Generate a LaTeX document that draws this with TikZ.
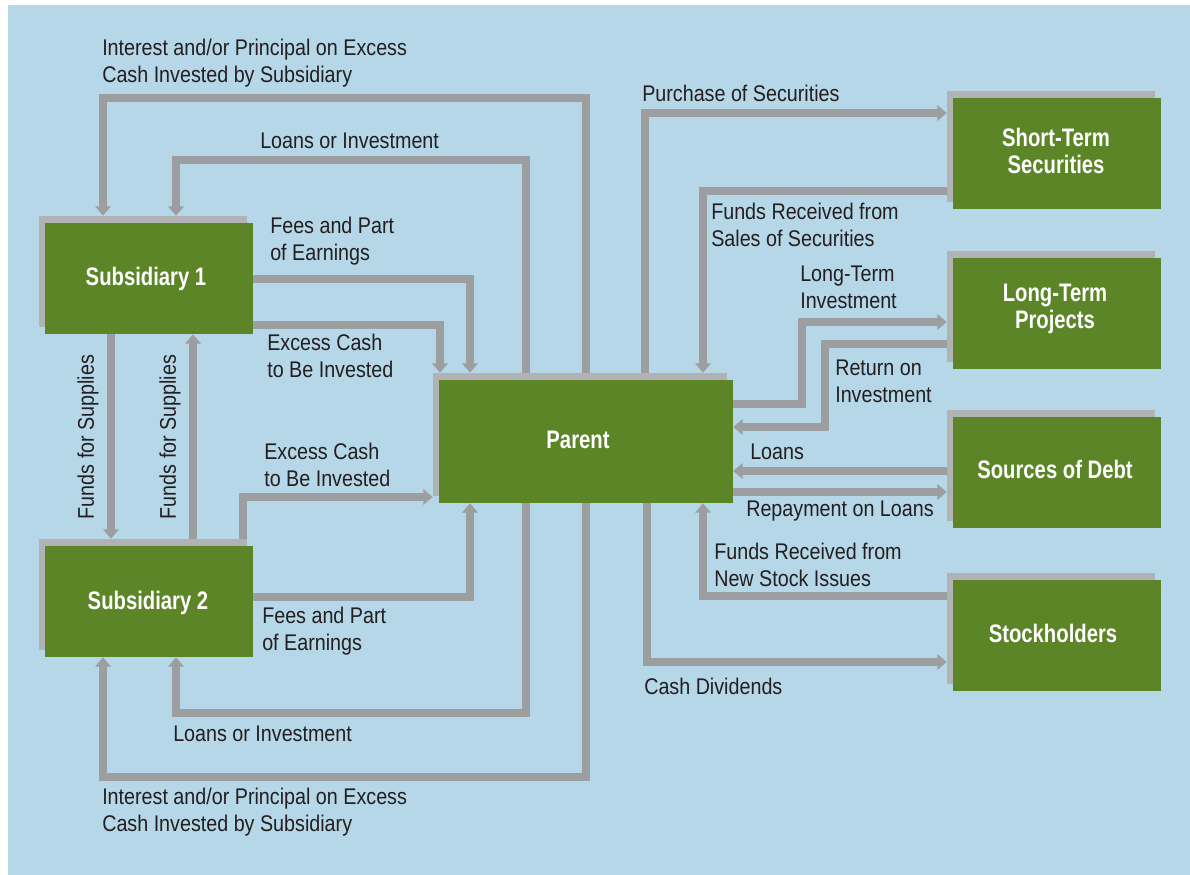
\documentclass[tikz,border=0pt]{standalone}
\usepackage{fontspec}
\setmainfont[FakeStretch=0.87]{Liberation Sans}
\newfontfamily\bxfont[FakeStretch=0.8]{Liberation Sans}
\usetikzlibrary{arrows.meta,calc}
\definecolor{bg}{HTML}{B5D7E7}
\definecolor{grn}{HTML}{5B8526}
\definecolor{arr}{HTML}{9D9EA0}
\definecolor{shd}{HTML}{B1B2B4}
\definecolor{txt}{HTML}{231F20}
\begin{document}
\begin{tikzpicture}[x=0.75pt,y=-0.75pt,
 flow/.style={draw=arr, line width=6pt, -{Triangle[width=11.5pt,length=7pt]}, line join=miter},
 gbox/.style={fill=grn, minimum width=156pt, minimum height=83.25pt, inner sep=0pt},
 gtext/.style={inner sep=0pt, text=white, font=\bxfont\bfseries\fontsize{19}{20.25}\selectfont, align=center},
 sbox/.style={fill=shd, minimum width=156pt, minimum height=83.25pt, inner sep=0pt},
 lbl/.style={text=txt, font=\fontsize{17}{20.25}\selectfont, align=left, inner sep=0pt, anchor=west}]
\fill[bg] (8,5) rectangle (1190,875);
\useasboundingbox (0,0) rectangle (1190,875);
% shadows
\node[sbox] (sub1s) at (143,271.5) {};
\node[sbox] (sub2s) at (143,594.5) {};
\node[sbox, minimum width=220.5pt, minimum height=92.25pt] (parents) at (580,434.5) {};
\node[sbox] (sts) at (1051,146.5) {};
\node[sbox] (lts) at (1051,306) {};
\node[sbox] (debts) at (1051,465.5) {};
\node[sbox] (stocks) at (1051,628) {};
% boxes
\node[gbox] (sub1) at (149,278.5) {};
\node[gbox] (sub2) at (149,601.5) {};
\node[gbox, minimum width=220.5pt, minimum height=92.25pt] (parent) at (586,441.5) {};
\node[gbox] (st) at (1057,153.5) {};
\node[gbox] (lt) at (1057,313) {};
\node[gbox] (debt) at (1057,472.5) {};
\node[gbox] (stock) at (1057,635) {};
% box texts
\node[gtext] (sub1t) at (146,279) {Subsidiary 1};
\node[gtext] (sub2t) at (148,603) {Subsidiary 2};
\node[gtext] (parentt) at (578,440) {Parent};
\node[gtext] (stt) at (1056,150.5) {Short-Term\\Securities};
\node[gtext] (ltt) at (1055,308.5) {Long-Term\\Projects};
\node[gtext] (debtt) at (1055,469) {Sources of Debt};
\node[gtext] (stockt) at (1053,633.5) {Stockholders};
% connectors, left side
\draw[flow] (parents.north -| 586,0) -- (586,98) -- (103,98) -- (sub1s.north -| 103,0);
\draw[flow] (parents.north -| 526,0) -- (526,160) -- (176,160) -- (sub1s.north -| 176,0);
\draw[flow] (sub1.east |- 0,279) -- (470,279) -- (parents.north -| 470,0);
\draw[flow] (sub1.east |- 0,325) -- (440,325) -- (parents.north -| 440,0);
\draw[flow] (sub2s.north -| 243,0) -- (243,497) -- (parents.west |- 0,497);
\draw[flow] (sub2.east |- 0,597) -- (470,597) -- (parent.south -| 470,0);
\draw[flow] (parent.south -| 526,0) -- (526,713) -- (176,713) -- (sub2.south -| 176,0);
\draw[flow] (parent.south -| 586,0) -- (586,777) -- (103,777) -- (sub2.south -| 103,0);
\draw[flow] (sub1.south -| 111,0) -- (sub2s.north -| 111,0);
\draw[flow] (sub2s.north -| 193,0) -- (sub1.south -| 193,0);
% connectors, right side
\draw[flow] (parents.north -| 645,0) -- (645,113) -- (sts.west |- 0,113);
\draw[flow] (sts.west |- 0,191) -- (703,191) -- (parents.north -| 703,0);
\draw[flow] (parent.east |- 0,404) -- (802,404) -- (802,322) -- (lts.west |- 0,322);
\draw[flow] (lts.west |- 0,344) -- (825,344) -- (825,427) -- (parent.east |- 0,427);
\draw[flow] (debts.west |- 0,471) -- (parent.east |- 0,471);
\draw[flow] (parent.east |- 0,492) -- (debts.west |- 0,492);
\draw[flow] (stocks.west |- 0,596) -- (703,596) -- (parent.south -| 703,0);
\draw[flow] (parent.south -| 647,0) -- (647,662) -- (stocks.west |- 0,662);
% labels
\node[lbl] (l1) at (102,63.5) {Interest and/or Principal on Excess\\Cash Invested by Subsidiary};
\node[lbl] (l2) at (260,141) {Loans or Investment};
\node[lbl] (l3) at (270,241.5) {Fees and Part\\of Earnings};
\node[lbl] (l4) at (267,355.5) {Excess Cash\\to Be Invested};
\node[lbl, anchor=center, rotate=90] (l5) at (88,437) {Funds for Supplies};
\node[lbl, anchor=center, rotate=90] (l6) at (170,437) {Funds for Supplies};
\node[lbl] (l7) at (264,464.5) {Excess Cash\\to Be Invested};
\node[lbl] (l8) at (262,631.5) {Fees and Part\\of Earnings};
\node[lbl] (l9) at (173,734) {Loans or Investment};
\node[lbl] (l10) at (102,812.5) {Interest and/or Principal on Excess\\Cash Invested by Subsidiary};
\node[lbl] (r1) at (642,93) {Purchase of Securities};
\node[lbl] (r2) at (711,225) {Funds Received from\\Sales of Securities};
\node[lbl] (r3) at (800,287) {Long-Term\\Investment};
\node[lbl] (r4) at (835,381.5) {Return on\\Investment};
\node[lbl] (r5) at (750,452) {Loans};
\node[lbl] (r6) at (746,511) {Repayment on Loans};
\node[lbl] (r7) at (714,564.5) {Funds Received from\\New Stock Issues};
\node[lbl] (r8) at (644,686) {Cash Dividends};
\end{tikzpicture}
\end{document}
